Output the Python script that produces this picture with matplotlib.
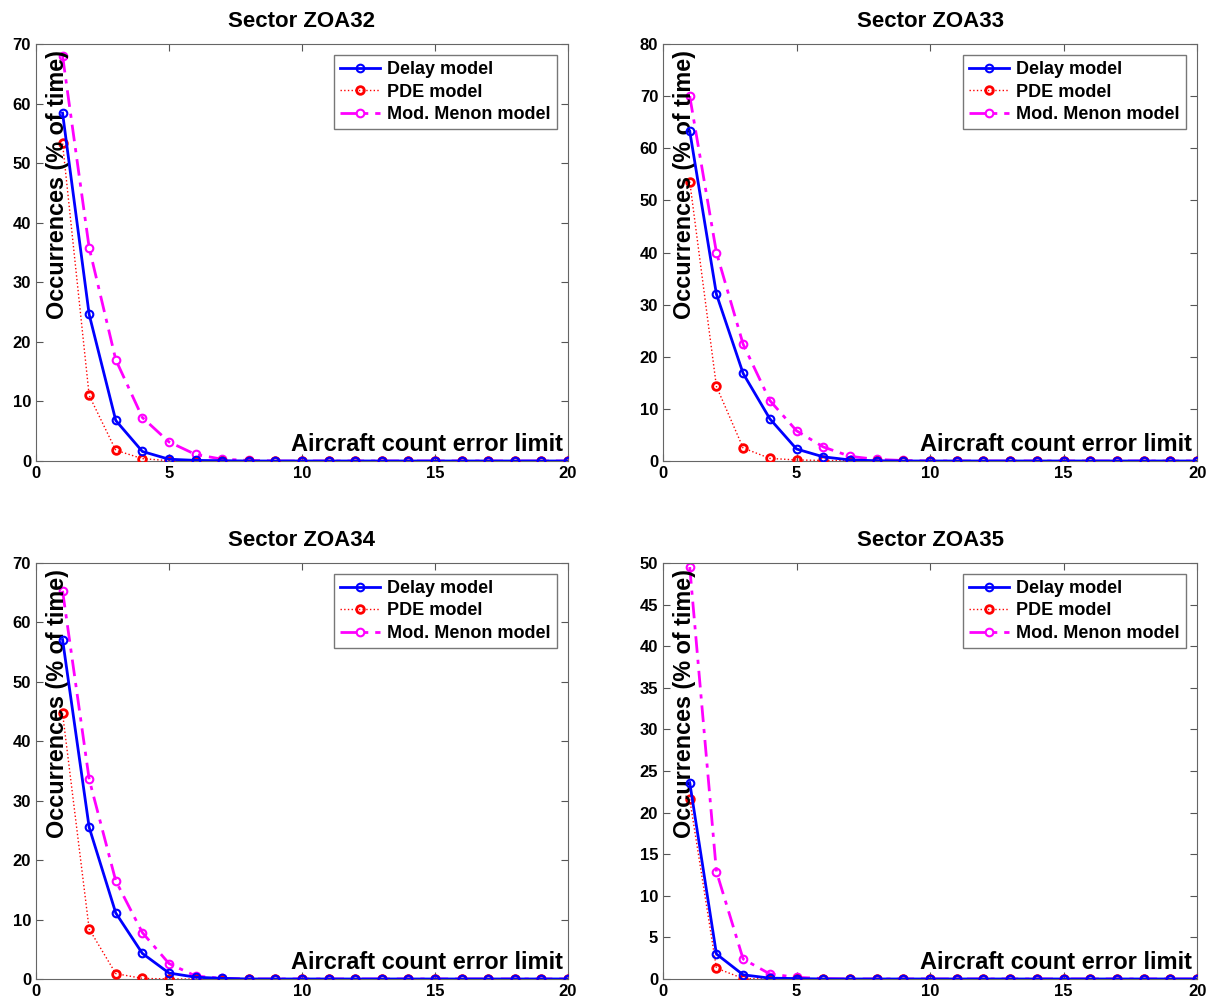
import matplotlib
matplotlib.use("Agg")
import matplotlib.pyplot as plt

plt.rcParams['font.family'] = ['Liberation Sans', 'DejaVu Sans']
plt.rcParams['font.weight'] = 'bold'

# valores (x = 1..20)
x = list(range(1, 21))
sectores = ["Sector ZOA32", "Sector ZOA33", "Sector ZOA34", "Sector ZOA35"]
ymax = [70, 80, 70, 50]
ypaso = [10, 10, 10, 5]

delay_32 = [58.4, 24.6, 6.8, 1.6, 0.3, 0.1, 0.05] + [0] * 13
pde_32 = [53.3, 11.0, 1.8, 0.4, 0.05, 0.0] + [0] * 14
menon_32 = [68.0, 35.8, 17.0, 7.3, 3.2, 1.1, 0.3, 0.1] + [0] * 12

delay_33 = [63.3, 32.0, 16.8, 8.1, 2.3, 0.8, 0.2, 0.05] + [0] * 12
pde_33 = [53.6, 14.3, 2.5, 0.5, 0.2, 0.1, 0.05] + [0] * 13
menon_33 = [70.0, 40.0, 22.4, 11.6, 5.8, 2.7, 0.9, 0.3, 0.1] + [0] * 11

delay_34 = [57.1, 25.5, 11.1, 4.3, 1.0, 0.3, 0.1] + [0] * 13
pde_34 = [44.7, 8.4, 0.9, 0.1, 0.0] + [0] * 15
menon_34 = [65.3, 33.6, 16.5, 7.8, 2.6, 0.5, 0.1] + [0] * 13

delay_35 = [23.6, 3.0, 0.5, 0.1, 0.05] + [0] * 15
pde_35 = [21.6, 1.3, 0.05, 0.0] + [0] * 16
menon_35 = [49.5, 12.9, 2.4, 0.6, 0.2, 0.05] + [0] * 14

datos = [(delay_32, pde_32, menon_32), (delay_33, pde_33, menon_33),
         (delay_34, pde_34, menon_34), (delay_35, pde_35, menon_35)]

fig = plt.figure(figsize=(12.11, 10.05), dpi=100)
# posiciones de los cuatro paneles (en fracciones de la figura)
pos = [[0.0297, 0.5413, 0.4393, 0.4149], [0.5475, 0.5413, 0.441, 0.4149],
       [0.0297, 0.0259, 0.4393, 0.414], [0.5475, 0.0259, 0.441, 0.414]]

for i in range(4):
    ax = fig.add_axes(pos[i])
    delay, pde, menon = datos[i]
    ax.plot(x, delay, color="blue", lw=2, marker="o", ms=5.5, mfc="none", mew=1.5,
            label="Delay model", zorder=4)
    ax.plot(x, pde, color="red", lw=1, ls=":", marker="o", ms=5.5, mfc="none", mew=2,
            label="PDE model", zorder=3)
    ax.plot(x, menon, color="magenta", lw=2, ls=(0, (6, 2.5, 1.5, 2.5)), marker="o", ms=5.5,
            mfc="none", mew=1.5, label="Mod. Menon model", zorder=2)
    ax.set_xlim(0, 20)
    ax.set_ylim(0, ymax[i])
    ax.set_xticks([0, 5, 10, 15, 20])
    ax.set_yticks(range(0, ymax[i] + 1, ypaso[i]))
    ax.tick_params(direction="in", top=True, right=True, labelsize=12, length=5,
                   color="#555555")
    for lab in ax.get_xticklabels() + ax.get_yticklabels():
        lab.set_fontweight("bold")
    for spine in ax.spines.values():
        spine.set_edgecolor("#666666")
    ax.set_title(sectores[i], fontsize=16, fontweight="bold", pad=12)
    # etiquetas dentro del eje, como en el original
    ax.text(0.041, 0.985, "Occurrences (% of time)", transform=ax.transAxes, rotation=90,
            ha="center", va="top", fontsize=16.8, fontweight="bold")
    ax.text(0.99, 0.013, "Aircraft count error limit", transform=ax.transAxes,
            ha="right", va="bottom", fontsize=17, fontweight="bold")
    leg = ax.legend(loc="upper right", fontsize=13, frameon=True, fancybox=False,
                    edgecolor="#555555", borderaxespad=0.6, handlelength=2.2,
                    borderpad=0.35, labelspacing=0.3, handletextpad=0.4)
    leg.get_frame().set_linewidth(1)
    for t in leg.get_texts():
        t.set_fontweight("bold")

plt.savefig("out.png", dpi=100)
